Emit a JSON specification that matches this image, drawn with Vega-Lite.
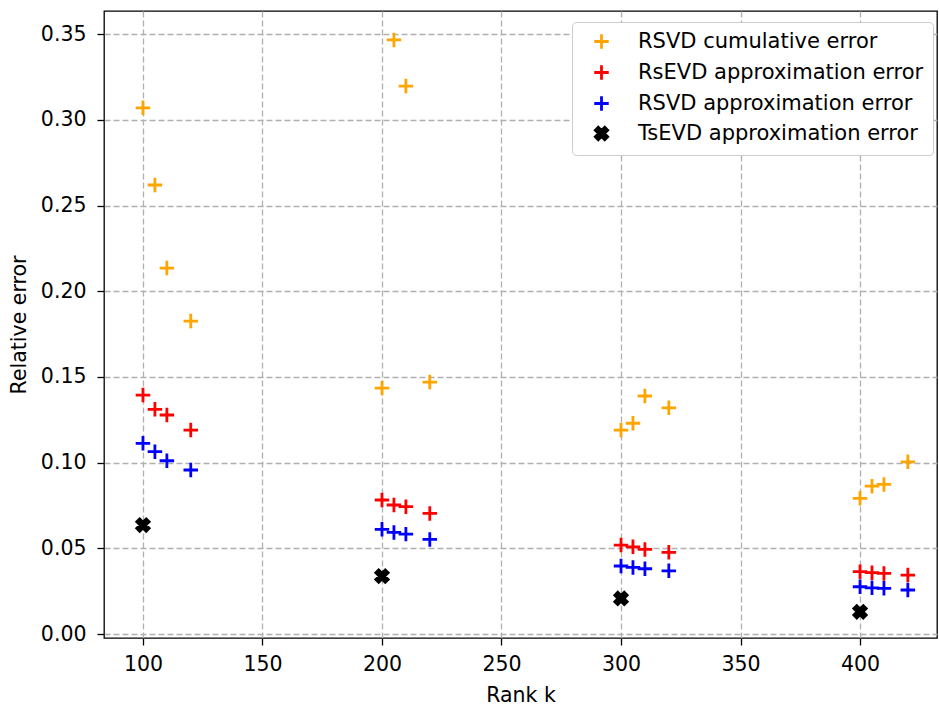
{
  "$schema": "https://vega.github.io/schema/vega-lite/v6.json",
  "autosize": {"type": "none"},
  "width": 833,
  "height": 627,
  "padding": {"left": 104, "top": 11, "right": 2, "bottom": 68},
  "background": "white",
  "config": {
    "font": "DejaVu Sans",
    "view": {"stroke": "black", "strokeWidth": 1.3},
    "axis": {
      "domain": false,
      "tickColor": "black",
      "tickWidth": 1.3,
      "tickSize": 7,
      "labelFont": "DejaVu Sans",
      "labelFontSize": 20.5,
      "labelColor": "black",
      "titleFont": "DejaVu Sans",
      "titleFontSize": 20.5,
      "titleFontWeight": "normal",
      "titleColor": "black",
      "gridColor": "#b0b0b0",
      "gridWidth": 1.3,
      "gridDash": [6, 3]
    }
  },
  "data": {
    "values": [
      {"series": "RSVD cumulative error", "k": 100, "err": 0.307},
      {"series": "RSVD cumulative error", "k": 105, "err": 0.262},
      {"series": "RSVD cumulative error", "k": 110, "err": 0.2135},
      {"series": "RSVD cumulative error", "k": 120, "err": 0.1826},
      {"series": "RSVD cumulative error", "k": 200, "err": 0.1435},
      {"series": "RSVD cumulative error", "k": 205, "err": 0.3466},
      {"series": "RSVD cumulative error", "k": 210, "err": 0.3197},
      {"series": "RSVD cumulative error", "k": 220, "err": 0.147},
      {"series": "RSVD cumulative error", "k": 300, "err": 0.119},
      {"series": "RSVD cumulative error", "k": 305, "err": 0.123},
      {"series": "RSVD cumulative error", "k": 310, "err": 0.1389},
      {"series": "RSVD cumulative error", "k": 320, "err": 0.132},
      {"series": "RSVD cumulative error", "k": 400, "err": 0.0792},
      {"series": "RSVD cumulative error", "k": 405, "err": 0.0863},
      {"series": "RSVD cumulative error", "k": 410, "err": 0.0873},
      {"series": "RSVD cumulative error", "k": 420, "err": 0.1005},
      {"series": "RsEVD approximation error", "k": 100, "err": 0.1394},
      {"series": "RsEVD approximation error", "k": 105, "err": 0.1311},
      {"series": "RsEVD approximation error", "k": 110, "err": 0.1278},
      {"series": "RsEVD approximation error", "k": 120, "err": 0.119},
      {"series": "RsEVD approximation error", "k": 200, "err": 0.0782},
      {"series": "RsEVD approximation error", "k": 205, "err": 0.0753},
      {"series": "RsEVD approximation error", "k": 210, "err": 0.0743},
      {"series": "RsEVD approximation error", "k": 220, "err": 0.0704},
      {"series": "RsEVD approximation error", "k": 300, "err": 0.0519},
      {"series": "RsEVD approximation error", "k": 305, "err": 0.0509},
      {"series": "RsEVD approximation error", "k": 310, "err": 0.0494},
      {"series": "RsEVD approximation error", "k": 320, "err": 0.0477},
      {"series": "RsEVD approximation error", "k": 400, "err": 0.0364},
      {"series": "RsEVD approximation error", "k": 405, "err": 0.0358},
      {"series": "RsEVD approximation error", "k": 410, "err": 0.0354},
      {"series": "RsEVD approximation error", "k": 420, "err": 0.0344},
      {"series": "RSVD approximation error", "k": 100, "err": 0.1113},
      {"series": "RSVD approximation error", "k": 105, "err": 0.1064},
      {"series": "RSVD approximation error", "k": 110, "err": 0.1011},
      {"series": "RSVD approximation error", "k": 120, "err": 0.0957},
      {"series": "RSVD approximation error", "k": 200, "err": 0.0611},
      {"series": "RSVD approximation error", "k": 205, "err": 0.0593},
      {"series": "RSVD approximation error", "k": 210, "err": 0.0583},
      {"series": "RSVD approximation error", "k": 220, "err": 0.0552},
      {"series": "RSVD approximation error", "k": 300, "err": 0.0397},
      {"series": "RSVD approximation error", "k": 305, "err": 0.0389},
      {"series": "RSVD approximation error", "k": 310, "err": 0.0381},
      {"series": "RSVD approximation error", "k": 320, "err": 0.0369},
      {"series": "RSVD approximation error", "k": 400, "err": 0.0276},
      {"series": "RSVD approximation error", "k": 405, "err": 0.027},
      {"series": "RSVD approximation error", "k": 410, "err": 0.0267},
      {"series": "RSVD approximation error", "k": 420, "err": 0.0257},
      {"series": "TsEVD approximation error", "k": 100, "err": 0.0636},
      {"series": "TsEVD approximation error", "k": 200, "err": 0.0338},
      {"series": "TsEVD approximation error", "k": 300, "err": 0.0208},
      {"series": "TsEVD approximation error", "k": 400, "err": 0.013}
    ]
  },
  "mark": {"type": "point", "filled": true, "size": 210, "strokeWidth": 2.8, "opacity": 1, "strokeCap": "butt"},
  "encoding": {
    "x": {
      "field": "k",
      "type": "quantitative",
      "title": "Rank k",
      "scale": {"domain": [83.7, 432.2], "nice": false, "zero": false},
      "axis": {"values": [100, 150, 200, 250, 300, 350, 400], "labelPadding": 9, "titlePadding": 11}
    },
    "y": {
      "field": "err",
      "type": "quantitative",
      "title": "Relative error",
      "scale": {"domain": [-0.0023, 0.3635], "nice": false, "zero": false},
      "axis": {"values": [0, 0.05, 0.1, 0.15, 0.2, 0.25, 0.3, 0.35], "format": ".2f", "labelPadding": 11, "titlePadding": 11}
    },
    "color": {
      "field": "series",
      "type": "nominal",
      "scale": {
        "domain": ["RSVD cumulative error", "RsEVD approximation error", "RSVD approximation error", "TsEVD approximation error"],
        "range": ["#FFA500", "#FF0000", "#0000FF", "#000000"]
      },
      "legend": {
        "title": null,
        "orient": "none",
        "legendX": 468,
        "legendY": 11,
        "padding": 9,
        "symbolOffset": 10,
        "labelOffset": 26,
        "labelFontSize": 21,
        "labelFont": "DejaVu Sans",
        "labelColor": "black",
        "labelLimit": 400,
        "rowPadding": 4,
        "symbolSize": 210,
        "symbolStrokeWidth": 2.8,
        "fillColor": "white",
        "strokeColor": "#cccccc",
        "cornerRadius": 4
      }
    },
    "stroke": {
      "field": "series",
      "type": "nominal",
      "scale": {
        "domain": ["RSVD cumulative error", "RsEVD approximation error", "RSVD approximation error", "TsEVD approximation error"],
        "range": ["#FFA500", "#FF0000", "#0000FF", "#000000"]
      }
    },
    "shape": {
      "field": "series",
      "type": "nominal",
      "scale": {
        "domain": ["RSVD cumulative error", "RsEVD approximation error", "RSVD approximation error", "TsEVD approximation error"],
        "range": [
          "M-1,0H1M0,-1V1",
          "M-1,0H1M0,-1V1",
          "M-1,0H1M0,-1V1",
          "M-0.85,-0.45L-0.45,-0.85L0,-0.4L0.45,-0.85L0.85,-0.45L0.4,0L0.85,0.45L0.45,0.85L0,0.4L-0.45,0.85L-0.85,0.45L-0.4,0Z"
        ]
      }
    }
  }
}
